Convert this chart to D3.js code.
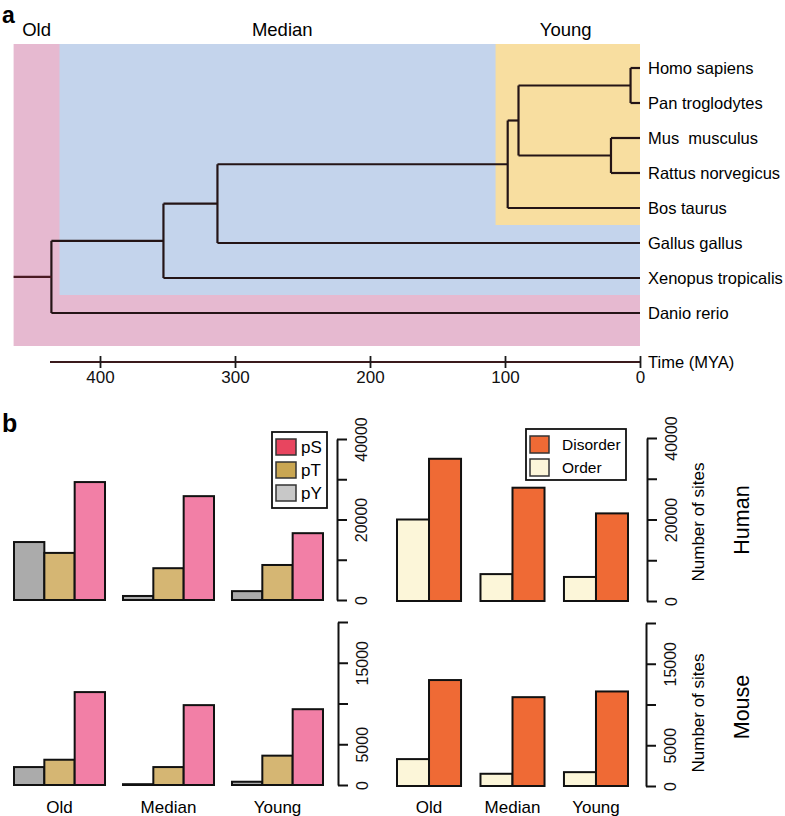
<!DOCTYPE html>
<html lang="en">
<head>
<meta charset="UTF-8">
<title>Phosphosite age</title>
<style>
  body { margin: 0; background: #fff; }
  svg { font-family: "Liberation Sans", Arial, sans-serif; }
</style>
</head>
<body>
<svg width="785" height="816"></svg>
<script src="https://d3js.org/d3.v7.min.js"></script>
<script>
// ---- panel a data ----
const species = ["Homo sapiens", "Pan troglodytes", "Mus  musculus", "Rattus norvegicus",
                 "Bos taurus", "Gallus gallus", "Xenopus tropicalis", "Danio rerio"];
// divergence times (MYA) of internal nodes, leaves sit at 0
const tree = {t: 436, children: [
  {t: 353, children: [
    {t: 313, children: [
      {t: 98, children: [
        {t: 90, children: [
          {t: 7, children: [{name: "Homo sapiens"}, {name: "Pan troglodytes"}]},
          {t: 21.5, children: [{name: "Mus  musculus"}, {name: "Rattus norvegicus"}]}
        ]},
        {name: "Bos taurus"}
      ]},
      {name: "Gallus gallus"}
    ]},
    {name: "Xenopus tropicalis"}
  ]},
  {name: "Danio rerio"}
]};
const rootStart = 464;
const timeTicks = [400, 300, 200, 100, 0];
const periods = ["Old", "Median", "Young"];
const periodStart = [464, 430, 107];     // MYA where each shaded band starts
const periodLastLeaf = ["Danio rerio", "Xenopus tropicalis", "Bos taurus"];
const periodLabelTime = [447, 265, 55];

// ---- panel b data ----
const groups = ["Old", "Median", "Young"];
const residues = ["pY", "pT", "pS"];
const humanPY = [14400, 1000, 2200];
const humanPT = [11700, 7900, 8700];
const humanPS = [29300, 25800, 16600];
const mousePY = [2200, 100, 400];
const mousePT = [3100, 2200, 3600];
const mousePS = [11400, 9800, 9300];
const structure = ["Order", "Disorder"];
const humanOrder = [20000, 6600, 5900];
const humanDisorder = [34900, 27800, 21500];
const mouseOrder = [3300, 1500, 1700];
const mouseDisorder = [13000, 10900, 11600];
const humanTicks = [0, 10000, 20000, 30000, 40000];
const humanTickLabels = [0, 20000, 40000];
const mouseTicks = [0, 5000, 10000, 15000, 20000];
const mouseTickLabels = [0, 5000, 15000];

const svg = d3.select("svg");
const lineCol = "#241416";

// ================= panel a =================
const x = d3.scaleLinear().domain([400, 0]).range([100, 640]);
const y = d3.scalePoint().domain(species).range([68, 313]);

svg.append("text").attr("x", 2).attr("y", 23).attr("font-size", 23).attr("font-weight", "bold").text("a");

const bandCols = ["#e6b9d0", "#c4d4ec", "#f8dea0"];
const bands = svg.append("g");
periods.forEach((p, i) => {
  bands.append("rect")
    .attr("x", x(periodStart[i]))
    .attr("y", 44)
    .attr("width", x(0) - x(periodStart[i]))
    .attr("height", y(periodLastLeaf[i]) + (i === 0 ? 33 : 17) - 44)
    .attr("fill", bandCols[i]);
  svg.append("text")
    .attr("x", x(periodLabelTime[i])).attr("y", 36)
    .attr("text-anchor", "middle").attr("font-size", 18.5)
    .text(p);
});

// layout: leaf y from point scale, internal node y = midpoint of children
const root = d3.hierarchy(tree);
root.eachAfter(n => {
  if (!n.children) { n.py = y(n.data.name); n.px = x(0); }
  else {
    n.py = (n.children[0].py + n.children[n.children.length - 1].py) / 2;
    n.px = x(n.data.t);
  }
});
const edges = svg.append("g").attr("stroke", lineCol).attr("stroke-width", 2.2).attr("fill", "none");
root.each(n => {
  if (n.children) {
    edges.append("line")
      .attr("x1", n.px).attr("x2", n.px)
      .attr("y1", n.children[0].py).attr("y2", n.children[n.children.length - 1].py);
    n.children.forEach(c => {
      edges.append("line").attr("x1", n.px).attr("x2", c.px).attr("y1", c.py).attr("y2", c.py);
    });
  }
});
edges.append("line").attr("x1", x(rootStart)).attr("x2", root.px)
  .attr("y1", root.py).attr("y2", root.py).attr("stroke", "#4a1a22");

svg.append("g").selectAll("text").data(species).join("text")
  .attr("x", x(0) + 8).attr("y", d => y(d))
  .attr("dy", "0.35em").attr("font-size", 16.5)
  .attr("xml:space", "preserve").style("white-space", "pre")
  .text(d => d);

// time axis
const tAxis = svg.append("g").attr("transform", "translate(0,362)")
  .call(d3.axisBottom(x).tickValues(timeTicks).tickSize(6).tickSizeOuter(0).tickPadding(4));
tAxis.select(".domain").remove();
tAxis.insert("line", ":first-child").attr("x1", 50).attr("x2", x(0))
  .attr("stroke", "#3a1a1c").attr("stroke-width", 2.2);
tAxis.selectAll(".tick line").attr("y1", -6).attr("y2", 6).attr("stroke", "#1a1a1a").attr("stroke-width", 1.8);
tAxis.selectAll(".tick text").attr("font-size", 17).attr("fill", "#111")
  .attr("font-family", "'Liberation Sans Narrow', 'Arial Narrow', 'Liberation Sans', sans-serif")
  .attr("y", 9);
svg.append("text").attr("x", x(0) + 8).attr("y", 362).attr("dy", "0.35em")
  .attr("font-size", 16.5).text("Time (MYA)");

// ================= panel b =================
svg.append("text").attr("x", 2).attr("y", 432).attr("font-size", 25).attr("font-weight", "bold").text("b");

const resCols = {pY: "#ababab", pT: "#d5b673", pS: "#f27fa6"};
const resLegendCols = {pS: "#e8455f", pT: "#c9a652", pY: "#c8c8c8"};
const strCols = {Order: "#fcf6d9", Disorder: "#ef6a35"};

function panel(opts) {
  const {x0, x1, y0, yMax, ticks, labels, keys, series, cols, padInner, axisX, showGroups} = opts;
  const yTop = opts.yTop;
  const ys = d3.scaleLinear().domain([0, yMax]).range([y0, yTop]);
  const gx = d3.scaleBand().domain(groups).range([x0, x1]).paddingInner(padInner).paddingOuter(0);
  const bx = d3.scaleBand().domain(keys).range([0, gx.bandwidth()]);
  const g = svg.append("g");
  groups.forEach((grp, gi) => {
    keys.forEach((k, ki) => {
      const v = series[ki][gi];
      g.append("rect")
        .attr("x", gx(grp) + bx(k)).attr("y", ys(v))
        .attr("width", bx.bandwidth()).attr("height", y0 - ys(v))
        .attr("fill", cols[k]).attr("stroke", "#111").attr("stroke-width", 2);
    });
    if (showGroups) {
      svg.append("text").attr("x", gx(grp) + gx.bandwidth() / 2).attr("y", 813)
        .attr("text-anchor", "middle").attr("font-size", 17).text(grp);
    }
  });
  const ax = svg.append("g").attr("transform", `translate(${axisX},0)`)
    .call(d3.axisRight(ys).tickValues(ticks).tickSize(10).tickSizeOuter(0)
      .tickFormat(d => labels.includes(d) ? d : ""));
  ax.select(".domain").attr("stroke", "#111").attr("stroke-width", 2);
  ax.selectAll(".tick line").attr("stroke", "#111").attr("stroke-width", 2);
  ax.selectAll(".tick text")
    .attr("x", 0).attr("y", 24).attr("dy", "0.35em")
    .attr("transform", "rotate(-90)")
    .attr("text-anchor", "middle").attr("font-size", 16).attr("fill", "#111");
  return ys;
}

// Human row
panel({x0: 14, x1: 323, y0: 600, yTop: 439, yMax: 40000, ticks: humanTicks, labels: humanTickLabels,
  keys: residues, series: [humanPY, humanPT, humanPS], cols: resCols, padInner: 0.165, axisX: 337});
panel({x0: 397, x1: 628, y0: 601, yTop: 438, yMax: 40000, ticks: humanTicks, labels: humanTickLabels,
  keys: structure, series: [humanOrder, humanDisorder], cols: strCols, padInner: 0.233, axisX: 647});
// Mouse row
panel({x0: 14, x1: 323, y0: 785, yTop: 622, yMax: 20000, ticks: mouseTicks, labels: mouseTickLabels,
  keys: residues, series: [mousePY, mousePT, mousePS], cols: resCols, padInner: 0.165, axisX: 338, showGroups: true});
panel({x0: 397, x1: 628, y0: 786, yTop: 623, yMax: 20000, ticks: mouseTicks, labels: mouseTickLabels,
  keys: structure, series: [mouseOrder, mouseDisorder], cols: strCols, padInner: 0.233, axisX: 646, showGroups: true});

// legends
function legend(lx, ly, w, h, items, cols, sw, sh, step, tx, fs) {
  const g = svg.append("g").attr("transform", `translate(${lx},${ly})`);
  g.append("rect").attr("width", w).attr("height", h).attr("fill", "#fff")
    .attr("stroke", "#111").attr("stroke-width", 1.8);
  items.forEach((k, i) => {
    g.append("rect").attr("x", 4).attr("y", 7 + i * step).attr("width", sw).attr("height", sh)
      .attr("fill", cols[k]).attr("stroke", "#333").attr("stroke-width", 1.5);
    g.append("text").attr("x", tx).attr("y", 7 + i * step + sh / 2).attr("dy", "0.35em")
      .attr("font-size", fs).text(k);
  });
}
legend(272, 432, 55, 76, ["pS", "pT", "pY"], resLegendCols, 20, 16, 23, 29, 17);
legend(526, 429, 100, 51, ["Disorder", "Order"], strCols, 19, 17, 23, 36, 15.5);

// row titles
[["Human", 520, 522], ["Mouse", 707, 713]].forEach(([lab, cy, ay]) => {
  svg.append("text").attr("transform", `translate(698,${ay}) rotate(-90)`)
    .attr("text-anchor", "middle").attr("dy", "0.35em").attr("font-size", 17).text("Number of sites");
  svg.append("text").attr("transform", `translate(741,${cy}) rotate(-90)`)
    .attr("text-anchor", "middle").attr("dy", "0.35em").attr("font-size", 21.5).text(lab);
});
</script>
</body>
</html>
